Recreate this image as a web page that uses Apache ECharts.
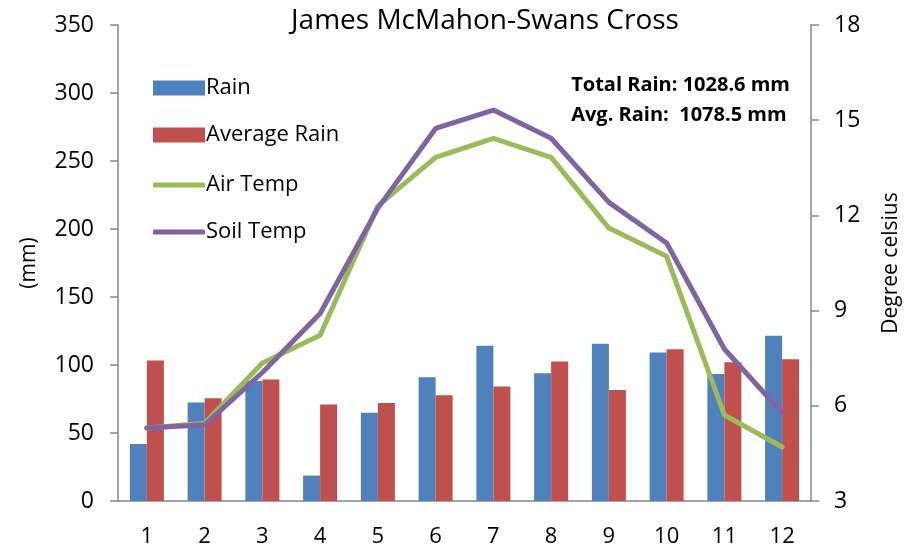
<!DOCTYPE html>
<html>
<head>
<meta charset="utf-8">
<script src="https://cdn.jsdelivr.net/npm/echarts@6/dist/echarts.min.js"></script>
<style>
  html, body { margin: 0; padding: 0; background: #fff; }
  #chart { width: 910px; height: 548px; }
</style>
</head>
<body>
<div id="chart"></div>
<script>
const months = ['1', '2', '3', '4', '5', '6', '7', '8', '9', '10', '11', '12'];
const rain = [42, 72.5, 88.3, 18.7, 64.9, 91, 114.2, 93.9, 115.7, 109.1, 93.4, 121.5];
const avgRain = [103.4, 75.6, 89.3, 71, 72, 77.8, 84.2, 102.5, 81.7, 111.5, 102, 104.2];
const airTemp = [5.3, 5.45, 7.35, 8.22, 12.3, 13.83, 14.43, 13.83, 11.6, 10.71, 5.71, 4.7];
const soilTemp = [5.3, 5.4, 7.05, 8.91, 12.23, 14.74, 15.32, 14.43, 12.41, 11.13, 7.79, 5.78];

const font = '"Open Sans", sans-serif';
const axisGray = '#868686';

const chart = echarts.init(document.getElementById('chart'));

const legendText = { fontFamily: font, fontSize: 22, color: '#000', padding: [0, 0, 0, -4] };

const option = {
    animation: false,
    textStyle: { fontFamily: font, color: '#000' },
    title: {
        text: 'James McMahon-Swans Cross',
        left: 480,
        textAlign: 'center',
        top: 2,
        textStyle: { fontFamily: font, fontSize: 28, fontWeight: 'normal', color: '#000' }
    },
    grid: { left: 118, right: 97, top: 25, bottom: 45 },
    legend: [
        {
            data: ['Rain', 'Average Rain'],
            orient: 'vertical',
            left: 148,
            top: 72,
            icon: 'rect',
            itemWidth: 52,
            itemHeight: 15,
            itemGap: 25,
            textStyle: legendText
        },
        {
            data: ['Air Temp', 'Soil Temp'],
            orient: 'vertical',
            left: 148,
            top: 169,
            icon: 'roundRect',
            itemWidth: 52,
            itemHeight: 5,
            itemGap: 25,
            textStyle: legendText
        }
    ],
    xAxis: {
        type: 'category',
        data: months,
        axisLine: { lineStyle: { color: axisGray, width: 1.5 } },
        axisTick: { length: 8, lineStyle: { color: axisGray, width: 1.5 } },
        axisLabel: { fontFamily: font, fontSize: 22, color: '#000', margin: 25 }
    },
    yAxis: [
        {
            type: 'value',
            min: 0,
            max: 350,
            interval: 50,
            name: '(mm)',
            nameLocation: 'middle',
            nameGap: 78,
            nameTextStyle: { fontFamily: font, fontSize: 21, color: '#000' },
            splitLine: { show: false },
            axisLine: { show: true, lineStyle: { color: axisGray, width: 1.5 } },
            axisTick: { show: true, length: 8, lineStyle: { color: axisGray, width: 1.5 } },
            axisLabel: { fontFamily: font, fontSize: 23, color: '#000', margin: 24 }
        },
        {
            type: 'value',
            min: 3,
            max: 18,
            interval: 3,
            name: 'Degree celsius',
            nameLocation: 'middle',
            nameGap: 70,
            nameTextStyle: { fontFamily: font, fontSize: 21, color: '#000' },
            splitLine: { show: false },
            axisLine: { show: true, lineStyle: { color: axisGray, width: 1.5 } },
            axisTick: { show: true, length: 8, lineStyle: { color: axisGray, width: 1.5 } },
            axisLabel: { fontFamily: font, fontSize: 23, color: '#000', margin: 23 }
        }
    ],
    graphic: [
        {
            type: 'text',
            right: 120,
            top: 70,
            style: {
                text: 'Total Rain: 1028.6 mm\nAvg. Rain:  1078.5 mm',
                fontFamily: font,
                fontSize: 20,
                fontWeight: 'bold',
                lineHeight: 30,
                fill: '#000'
            }
        }
    ],
    series: [
        {
            name: 'Rain',
            type: 'bar',
            data: rain,
            barWidth: 17,
            barGap: '0%',
            itemStyle: { color: '#4F81BD' }
        },
        {
            name: 'Average Rain',
            type: 'bar',
            data: avgRain,
            barWidth: 17,
            barGap: '0%',
            itemStyle: { color: '#C0504D' }
        },
        {
            name: 'Air Temp',
            type: 'line',
            yAxisIndex: 1,
            data: airTemp,
            symbol: 'none',
            lineStyle: { color: '#9BBB59', width: 5, cap: 'round' },
            itemStyle: { color: '#9BBB59' }
        },
        {
            name: 'Soil Temp',
            type: 'line',
            yAxisIndex: 1,
            data: soilTemp,
            symbol: 'none',
            lineStyle: { color: '#8064A2', width: 5, cap: 'round' },
            itemStyle: { color: '#8064A2' }
        }
    ]
};

option && chart.setOption(option);
</script>
</body>
</html>
